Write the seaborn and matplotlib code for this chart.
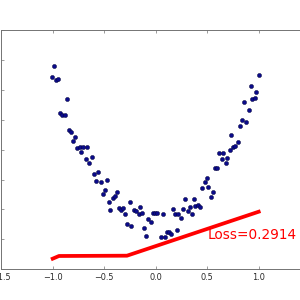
import matplotlib
matplotlib.use("Agg")
import matplotlib.pyplot as plt
import seaborn as sns
import numpy as np
import pandas as pd

# scatter data
x_pts = [-1.010, -0.984, -0.965, -0.946, -0.926, -0.907, -0.883, -0.861, -0.842, -0.822,
         -0.803, -0.783, -0.764, -0.738, -0.722, -0.706, -0.677, -0.667, -0.645, -0.618,
         -0.599, -0.580, -0.560, -0.534, -0.515, -0.495, -0.476, -0.458, -0.444, -0.417,
         -0.398, -0.373, -0.353, -0.334, -0.320, -0.295, -0.276, -0.250, -0.237, -0.211,
         -0.191, -0.165, -0.152, -0.133, -0.118, -0.094, -0.072, -0.050, -0.029, -0.004,
         0.017, 0.049, 0.068, 0.087, 0.107, 0.126, 0.146, 0.165, 0.187, 0.207,
         0.217, 0.241, 0.268, 0.287, 0.309, 0.333, 0.352, 0.372, 0.386, 0.408,
         0.427, 0.452, 0.479, 0.498, 0.511, 0.537, 0.556, 0.579, 0.598, 0.610,
         0.639, 0.656, 0.680, 0.697, 0.717, 0.733, 0.755, 0.772, 0.797, 0.818,
         0.838, 0.857, 0.877, 0.903, 0.922, 0.935, 0.961, 0.974, 1.000]
y_pts = [1.085, 1.160, 1.065, 1.071, 0.842, 0.835, 0.833, 0.940, 0.733, 0.715,
         0.655, 0.684, 0.611, 0.621, 0.581, 0.619, 0.537, 0.617, 0.510, 0.550,
         0.439, 0.390, 0.448, 0.385, 0.305, 0.332, 0.399, 0.252, 0.194, 0.279,
         0.287, 0.319, 0.207, 0.198, 0.207, 0.172, 0.105, 0.247, 0.092, 0.198,
         0.190, 0.172, 0.215, 0.176, 0.076, 0.025, 0.138, 0.115, 0.178, 0.176,
         0.178, 0.016, 0.172, 0.013, 0.051, 0.050, 0.039, 0.206, 0.170, 0.061,
         0.168, 0.145, 0.206, 0.273, 0.192, 0.215, 0.168, 0.273, 0.222, 0.232,
         0.218, 0.342, 0.382, 0.413, 0.347, 0.285, 0.315, 0.478, 0.478, 0.578,
         0.536, 0.579, 0.512, 0.542, 0.601, 0.698, 0.616, 0.625, 0.653, 0.760,
         0.795, 0.920, 0.786, 0.866, 1.027, 0.938, 0.942, 0.987, 1.102]

# prediction line vertices
x_line = [-1.0, -0.939, -0.279, 1.0]
y_line = [-0.129, -0.111, -0.109, 0.185]

loss_label = "Loss=0.2914"
x_ticks = [-1.5, -1.0, -0.5, 0.0, 0.5, 1.0, 1.5]
y_ticks = [-0.2, 0.0, 0.2, 0.4, 0.6, 0.8, 1.0, 1.2, 1.4]

sns.set_style("white")
plt.rcParams['font.family'] = ['DejaVu Sans']

fig = plt.figure(figsize=(3, 3), dpi=100)
ax = fig.add_axes([1.2 / 300, 30.7 / 300, 309 / 300, 239.3 / 300])

pts = pd.DataFrame({"x": x_pts, "y": y_pts})
line = pd.DataFrame({"x": x_line, "y": y_line})

sns.scatterplot(data=pts, x="x", y="y", ax=ax, s=9, color="#0b0b8a",
                edgecolor="#000030", linewidth=0.3, zorder=3)
sns.lineplot(data=line, x="x", y="y", ax=ax, color="red", lw=2.7, sort=False,
             solid_capstyle="projecting", zorder=2)
ax.text(0.5, 0.0, loss_label, color="red", fontsize=9.8)

ax.set_xlim(-1.5, 1.5)
ax.set_ylim(-0.2, 1.4)
ax.set_xticks(x_ticks)
ax.set_yticks(y_ticks)
ax.set_xlabel("")
ax.set_ylabel("")
ax.tick_params(direction="in", length=2.2, width=0.5, color="0.45", labelsize=5.9,
               pad=2.5, top=True, right=True, left=True, bottom=True)
for s in ax.spines.values():
    s.set_visible(True)
    s.set_color("0.45")
    s.set_linewidth(0.7)

fig.savefig("out.png", dpi=100, facecolor="white")
